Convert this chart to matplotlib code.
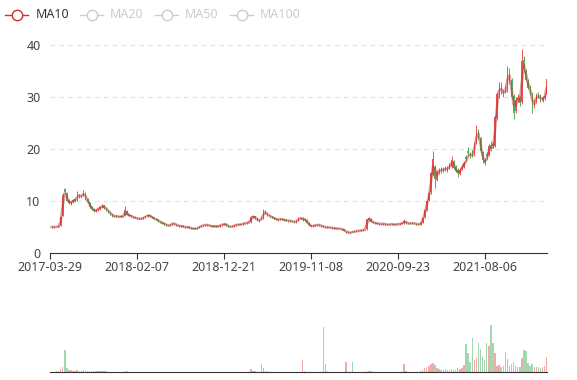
import matplotlib.pyplot as plt
from matplotlib.lines import Line2D
import numpy as np
import pandas as pd

# one candle per week (5 trading days), so MA10 = 2 candles
tick_labels = ['2017-03-29', '2018-02-07', '2018-12-21', '2019-11-08', '2020-09-23', '2021-08-06']
legend_names = ['MA10', 'MA20', 'MA50', 'MA100']

opens = [
    4.95, 5.05, 4.95, 4.95, 5.0, 5.1, 7.0, 12.2, 11.5, 10.1,
    9.5, 9.8, 10.3, 10.1, 11.2, 10.7, 11.0, 11.4, 10.3, 9.7,
    8.9, 8.5, 8.0, 8.3, 8.4, 8.9, 9.1, 8.6, 8.2, 7.8,
    7.4, 6.9, 7.2, 6.9, 7.1, 6.9, 7.1, 8.0, 7.4, 7.2,
    6.9, 6.8, 6.7, 6.5, 6.6, 6.5, 6.9, 7.0, 7.3, 7.0,
    6.8, 6.5, 6.4, 6.0, 5.9, 5.7, 5.5, 5.3, 5.2, 5.4,
    5.7, 5.4, 5.3, 5.1, 5.2, 5.0, 4.9, 5.0, 4.8, 4.7,
    4.7, 4.6, 4.8, 5.0, 5.2, 5.3, 5.4, 5.3, 5.2, 5.0,
    5.2, 5.0, 5.1, 5.3, 5.4, 5.6, 5.3, 5.1, 5.0, 5.1,
    5.3, 5.5, 5.4, 5.5, 5.6, 5.7, 5.8, 5.9, 6.9, 7.0,
    6.6, 6.3, 6.8, 6.6, 8.0, 7.6, 7.2, 6.9, 6.8, 6.6,
    6.3, 6.4, 6.5, 6.4, 6.3, 6.1, 6.2, 6.1, 6.0, 5.9,
    6.2, 6.5, 6.3, 6.5, 6.3, 5.8, 5.3, 5.1, 5.2, 5.3,
    5.4, 5.3, 5.2, 4.8, 5.0, 4.9, 4.7, 4.8, 4.6, 4.7,
    4.65, 4.6, 4.5, 3.9, 4.0, 3.8, 4.1, 4.0, 4.1, 4.3,
    4.2, 4.3, 4.45, 4.5, 6.3, 6.5, 6.0, 5.8, 5.7, 5.5,
    5.6, 5.5, 5.6, 5.5, 5.4, 5.6, 5.5, 5.4, 5.6, 5.5,
    5.6, 5.7, 6.0, 5.7, 5.6, 5.8, 5.7, 5.6, 5.5, 5.4,
    5.8, 6.8, 8.2, 10.1, 11.6, 15.0, 16.5, 14.0, 15.4, 16.2,
    15.7, 16.4, 15.9, 16.4, 16.6, 17.6, 16.5, 16.0, 15.2, 16.1,
    16.5, 18.4, 19.6, 19.0, 19.3, 18.8, 21.2, 23.4, 22.0, 19.3,
    17.8, 19.0, 18.8, 20.8, 21.0, 20.6, 26.0, 30.2, 32.2, 31.0,
    31.8, 31.3, 35.0, 33.2, 30.2, 27.2, 29.4, 29.9, 29.0, 37.2,
    35.0, 33.1, 32.0, 30.6, 28.2, 29.0, 30.6, 30.2, 29.3, 29.7,
    30.3,
]
closes = [
    5.0, 4.9, 5.0, 5.0, 5.1, 6.8, 11.2, 11.6, 10.0, 9.6,
    9.7, 10.2, 10.0, 11.3, 10.8, 11.0, 11.5, 10.4, 9.8, 8.8,
    8.4, 8.0, 8.2, 8.5, 8.8, 9.0, 8.7, 8.3, 7.9, 7.5,
    7.0, 7.1, 6.9, 7.0, 6.9, 7.0, 8.2, 7.3, 7.1, 7.0,
    6.8, 6.7, 6.5, 6.6, 6.5, 6.8, 7.0, 7.2, 7.0, 6.8,
    6.5, 6.4, 6.1, 5.9, 5.7, 5.5, 5.3, 5.2, 5.4, 5.7,
    5.5, 5.3, 5.1, 5.2, 5.0, 4.9, 5.0, 4.8, 4.7, 4.6,
    4.6, 4.8, 5.0, 5.2, 5.3, 5.4, 5.3, 5.2, 5.0, 5.2,
    5.0, 5.1, 5.3, 5.4, 5.6, 5.3, 5.0, 5.0, 5.1, 5.3,
    5.4, 5.4, 5.5, 5.6, 5.7, 5.8, 5.9, 6.8, 7.0, 6.6,
    6.3, 6.2, 6.6, 8.0, 7.6, 7.2, 7.0, 6.8, 6.6, 6.4,
    6.4, 6.5, 6.4, 6.3, 6.2, 6.2, 6.1, 6.0, 5.9, 6.2,
    6.6, 6.6, 6.5, 6.3, 5.8, 5.3, 5.1, 5.2, 5.3, 5.4,
    5.3, 5.1, 5.0, 4.9, 4.9, 4.8, 4.8, 4.7, 4.7, 4.6,
    4.6, 4.5, 4.2, 4.0, 3.8, 3.9, 4.0, 4.1, 4.2, 4.2,
    4.3, 4.4, 4.4, 6.4, 6.6, 6.0, 5.8, 5.7, 5.6, 5.6,
    5.5, 5.6, 5.4, 5.4, 5.5, 5.5, 5.4, 5.5, 5.5, 5.6,
    5.7, 6.1, 5.7, 5.6, 5.7, 5.7, 5.6, 5.5, 5.4, 5.8,
    6.7, 8.3, 10.0, 11.5, 15.3, 18.0, 14.2, 15.5, 16.0, 15.8,
    16.2, 16.0, 16.3, 16.8, 17.8, 16.4, 15.8, 15.3, 16.0, 16.6,
    17.2, 18.0, 19.2, 18.6, 18.9, 21.0, 23.5, 22.4, 19.5, 17.9,
    17.3, 18.6, 20.5, 20.0, 20.5, 26.2, 30.5, 32.0, 31.1, 30.6,
    31.4, 35.3, 33.0, 30.0, 27.0, 29.5, 29.8, 28.8, 37.0, 35.3,
    33.3, 31.8, 30.8, 28.0, 29.2, 30.4, 30.0, 29.5, 29.8, 30.1,
    33.5,
]
lows = [
    4.9, 4.85, 4.85, 4.9, 4.95, 5.05, 7.0, 11.3, 9.9, 9.3,
    9.2, 9.6, 9.7, 10.0, 10.6, 10.5, 10.9, 10.2, 9.6, 8.6,
    8.2, 7.8, 7.9, 8.1, 8.3, 8.7, 8.5, 8.1, 7.7, 7.3,
    6.9, 6.8, 6.8, 6.8, 6.8, 6.8, 7.0, 7.2, 7.0, 6.9,
    6.7, 6.6, 6.4, 6.4, 6.4, 6.4, 6.8, 6.9, 6.9, 6.7,
    6.4, 6.3, 6.0, 5.8, 5.6, 5.4, 5.2, 5.1, 5.1, 5.3,
    5.4, 5.2, 5.0, 5.0, 4.9, 4.8, 4.8, 4.7, 4.6, 4.5,
    4.5, 4.5, 4.7, 4.9, 5.1, 5.2, 5.2, 5.1, 4.9, 4.9,
    4.9, 4.9, 5.0, 5.2, 5.3, 5.2, 4.9, 4.9, 4.9, 5.0,
    5.2, 5.3, 5.3, 5.4, 5.5, 5.6, 5.7, 5.8, 6.7, 6.5,
    6.2, 6.0, 6.5, 6.5, 7.4, 7.1, 6.9, 6.7, 6.5, 6.3,
    6.2, 6.3, 6.3, 6.2, 6.1, 6.0, 6.0, 5.9, 5.8, 5.8,
    6.1, 6.4, 6.2, 6.2, 5.7, 5.2, 5.0, 5.0, 5.1, 5.2,
    5.2, 5.0, 4.9, 4.7, 4.8, 4.7, 4.6, 4.6, 4.5, 4.5,
    4.5, 4.4, 4.1, 3.8, 3.7, 3.7, 3.9, 3.9, 4.0, 4.1,
    4.1, 4.2, 4.3, 4.4, 6.1, 5.9, 5.7, 5.6, 5.5, 5.4,
    5.4, 5.4, 5.3, 5.3, 5.3, 5.4, 5.3, 5.3, 5.4, 5.4,
    5.5, 5.6, 5.6, 5.5, 5.5, 5.6, 5.5, 5.4, 5.3, 5.3,
    5.7, 6.7, 8.0, 9.9, 11.4, 14.8, 12.5, 13.8, 15.1, 15.4,
    15.5, 15.7, 15.6, 16.1, 16.4, 16.2, 15.5, 14.6, 15.0, 15.9,
    16.3, 17.6, 18.9, 18.2, 18.5, 18.6, 21.0, 21.9, 19.2, 17.2,
    16.8, 18.1, 18.6, 19.6, 20.2, 20.4, 25.6, 29.8, 30.6, 29.9,
    30.8, 31.0, 32.5, 29.6, 25.8, 27.0, 29.0, 28.2, 28.7, 34.8,
    33.0, 31.5, 30.3, 27.0, 27.9, 28.8, 29.7, 29.1, 29.0, 29.4,
    30.1,
]
highs = [
    5.1, 5.1, 5.05, 5.1, 5.15, 7.0, 11.5, 12.5, 11.6, 10.3,
    9.9, 10.4, 10.5, 11.8, 11.4, 11.2, 12.0, 11.6, 10.5, 9.8,
    9.0, 8.6, 8.4, 8.7, 8.9, 9.3, 9.2, 8.8, 8.3, 7.9,
    7.5, 7.2, 7.3, 7.1, 7.2, 7.1, 9.0, 8.3, 7.5, 7.3,
    7.0, 6.9, 6.8, 6.7, 6.7, 6.9, 7.1, 7.4, 7.4, 7.1,
    6.9, 6.6, 6.5, 6.1, 6.0, 5.8, 5.6, 5.4, 5.5, 5.8,
    5.8, 5.5, 5.4, 5.3, 5.3, 5.1, 5.1, 5.1, 4.9, 4.8,
    4.8, 4.9, 5.1, 5.3, 5.4, 5.5, 5.5, 5.4, 5.3, 5.3,
    5.3, 5.2, 5.4, 5.5, 5.7, 5.7, 5.4, 5.2, 5.2, 5.4,
    5.5, 5.6, 5.6, 5.7, 5.8, 5.9, 6.0, 7.1, 7.3, 7.1,
    6.7, 6.4, 6.9, 8.5, 8.2, 7.7, 7.3, 7.0, 6.9, 6.7,
    6.5, 6.6, 6.6, 6.5, 6.4, 6.3, 6.3, 6.2, 6.1, 6.3,
    6.8, 6.8, 6.9, 6.6, 6.4, 5.9, 5.4, 5.3, 5.4, 5.5,
    5.5, 5.4, 5.3, 5.0, 5.1, 5.0, 4.9, 4.9, 4.8, 4.8,
    4.8, 4.7, 4.6, 4.2, 4.1, 4.0, 4.2, 4.2, 4.3, 4.4,
    4.4, 4.5, 4.5, 6.5, 6.9, 6.6, 6.1, 5.9, 5.8, 5.7,
    5.7, 5.7, 5.7, 5.6, 5.6, 5.7, 5.6, 5.6, 5.7, 5.7,
    5.8, 6.4, 6.1, 5.8, 5.8, 5.9, 5.8, 5.7, 5.6, 5.9,
    6.8, 8.4, 10.1, 11.8, 15.6, 19.5, 16.8, 15.9, 16.4, 16.6,
    16.6, 16.7, 16.7, 17.2, 18.6, 17.9, 16.8, 16.3, 16.3, 17.0,
    17.6, 18.9, 20.4, 19.4, 19.8, 21.4, 24.6, 23.8, 22.3, 19.6,
    18.2, 19.3, 21.0, 21.5, 21.4, 26.5, 31.0, 32.8, 32.8, 31.6,
    32.2, 36.0, 35.5, 33.6, 30.6, 29.9, 30.6, 30.2, 39.2, 37.8,
    35.4, 33.5, 32.3, 30.9, 29.6, 30.8, 31.0, 30.5, 30.2, 30.6,
    34.7,
]
volumes = [
    0.5, 0.5, 0.5, 0.6, 0.8, 3.0, 5.0, 22.0, 4.0, 2.5,
    2.0, 1.5, 1.2, 2.5, 1.5, 1.2, 2.0, 1.5, 1.0, 1.0,
    1.5, 1.0, 0.8, 0.8, 0.7, 0.8, 1.0, 0.6, 0.5, 0.5,
    0.5, 0.4, 0.4, 0.4, 0.4, 0.5, 1.5, 0.8, 0.5, 0.4,
    0.4, 0.3, 0.3, 0.3, 0.3, 0.3, 0.4, 0.5, 0.4, 0.3,
    0.3, 0.3, 0.3, 0.3, 0.3, 0.3, 0.3, 0.3, 0.3, 0.3,
    0.3, 0.3, 0.3, 0.3, 0.3, 0.3, 0.3, 0.3, 0.3, 0.3,
    0.3, 0.3, 0.3, 0.3, 0.3, 0.3, 0.3, 0.3, 0.3, 0.3,
    0.3, 0.3, 0.3, 0.3, 0.3, 0.3, 0.3, 0.3, 0.3, 0.3,
    0.3, 0.3, 0.3, 0.3, 0.3, 0.3, 0.4, 3.5, 1.2, 0.6,
    0.5, 0.4, 8.0, 4.0, 1.2, 0.8, 0.5, 0.4, 0.4, 0.3,
    0.3, 0.3, 0.3, 0.3, 0.3, 0.3, 0.3, 0.3, 0.4, 0.4,
    0.5, 0.4, 12.0, 0.6, 0.4, 0.4, 0.3, 0.3, 0.3, 0.3,
    0.4, 0.5, 45.0, 8.0, 1.5, 0.5, 0.3, 0.3, 0.3, 0.3,
    0.3, 0.3, 0.3, 10.0, 0.5, 0.4, 10.0, 0.4, 0.3, 0.3,
    0.3, 0.3, 0.4, 1.0, 1.2, 0.8, 0.5, 0.4, 0.4, 0.3,
    0.3, 0.4, 0.3, 0.4, 0.3, 0.3, 0.4, 0.3, 0.3, 0.4,
    0.5, 8.0, 0.6, 0.4, 0.4, 0.4, 0.4, 0.4, 0.5, 1.0,
    2.0, 4.0, 5.0, 6.0, 8.0, 9.0, 7.0, 4.0, 3.0, 2.5,
    2.0, 3.0, 2.0, 2.5, 3.0, 2.5, 2.0, 4.0, 3.0, 4.0,
    7.0, 28.0, 19.0, 10.0, 34.0, 12.0, 14.0, 29.0, 23.0, 15.0,
    12.0, 29.0, 26.0, 47.0, 29.0, 19.0, 6.0, 7.0, 5.0, 6.0,
    20.0, 13.0, 6.0, 8.0, 10.0, 6.0, 5.0, 5.0, 14.0, 22.0,
    21.0, 9.0, 6.0, 8.0, 5.0, 5.0, 5.0, 4.0, 5.0, 6.0,
    15.0,
]

plt.rcParams['font.family'] = ['Noto Sans', 'DejaVu Sans']

up_color = '#eb5454'
down_color = '#47b262'

o = np.array(opens)
c = np.array(closes)
lo = np.array(lows)
hi = np.array(highs)
vol = np.array(volumes)
x = np.arange(len(c))
up = c >= o
colors = np.where(up, up_color, down_color)

fig = plt.figure(figsize=(5.77, 3.80), dpi=100)
ax = fig.add_axes([50.3 / 577, 1 - 252.7 / 380, 496.4 / 577, 207.7 / 380])
vax = fig.add_axes([50.3 / 577, 8 / 380, 496.4 / 577, 47 / 380])

# candles
ax.vlines(x, lo, hi, colors=colors, linewidth=0.7, zorder=3)
body = np.maximum(np.abs(c - o), 0.06)
ax.bar(x, body, bottom=np.minimum(o, c), width=0.6, color=colors,
       linewidth=0, zorder=3)

# MA10 over weekly candles -> 2 candles
ma10 = pd.Series(closes).rolling(2).mean()
ax.plot(x, ma10, color='#c23531', alpha=0.5, linewidth=1.8, zorder=4)

ax.set_xlim(0, len(c) - 1)
ax.set_ylim(0, 40)
ax.set_yticks([0, 10, 20, 30, 40])
for v in [10, 20, 30, 40]:
    ax.axhline(v, color='#e0e0e0', linewidth=0.8, linestyle=(0, (4, 4)), zorder=1)
ax.set_xticks(np.arange(len(tick_labels)) * 42)
ax.set_xticklabels(tick_labels)
ax.tick_params(axis='x', length=4, width=0.8, color='#333333', pad=2,
               labelsize=9, labelcolor='#444444')
ax.tick_params(axis='y', length=0, pad=7, labelsize=9, labelcolor='#444444')
for s in ['top', 'right', 'left']:
    ax.spines[s].set_visible(False)
ax.spines['bottom'].set_color('#333333')
ax.spines['bottom'].set_linewidth(0.8)

# volume
vax.bar(x, vol, width=0.7, color=colors, alpha=0.5, linewidth=0)
vax.set_xlim(0, len(c) - 1)
vax.set_ylim(0, max(volumes))
vax.set_xticks([])
vax.set_yticks([])
for s in ['top', 'right', 'left']:
    vax.spines[s].set_visible(False)
vax.spines['bottom'].set_color('#333333')
vax.spines['bottom'].set_linewidth(0.8)

# legend
icon_x = [5, 80, 155, 230]
text_x = [36, 110, 185, 260]
for i, name in enumerate(legend_names):
    col = '#c23531' if i == 0 else '#cccccc'
    tcol = '#333333' if i == 0 else '#cccccc'
    x0 = icon_x[i] / 577
    x1 = (icon_x[i] + 23) / 577
    yy = 1 - 15 / 380
    fig.add_artist(Line2D([x0, x1], [yy, yy], color=col, linewidth=1.0))
    fig.add_artist(Line2D([(x0 + x1) / 2], [yy], marker='o', markersize=7.5,
                          markerfacecolor='white', markeredgecolor=col,
                          markeredgewidth=1.0))
    fig.text(text_x[i] / 577, yy, name, color=tcol, fontsize=9, va='center', ha='left')

fig.savefig('out.png', dpi=100)
